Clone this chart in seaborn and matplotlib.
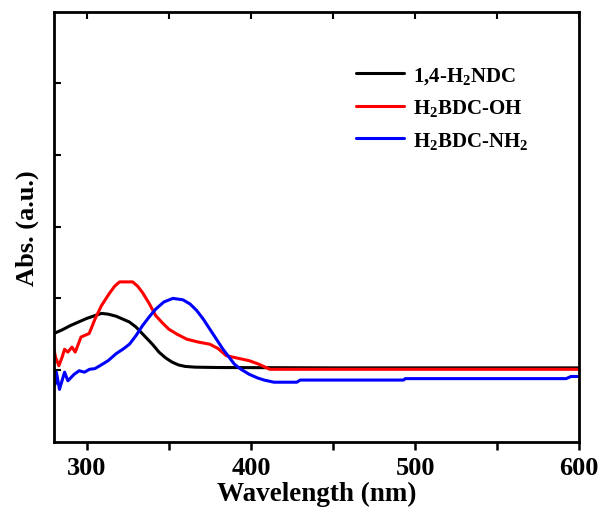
import numpy as np
import pandas as pd
import matplotlib
matplotlib.use("Agg")
import matplotlib.pyplot as plt
import seaborn as sns
from matplotlib.ticker import MultipleLocator

# Data (wavelength in nm, absorbance a.u.)
ndc_x = [280, 285, 290, 295, 300, 305, 309, 313, 318, 322, 326, 330, 335, 340, 344,
         348, 352, 356, 360, 366, 380, 450, 600]
ndc_y = [1.51, 1.56, 1.62, 1.67, 1.72, 1.76, 1.79, 1.78, 1.75, 1.71, 1.67, 1.60, 1.48,
         1.36, 1.25, 1.17, 1.11, 1.07, 1.05, 1.04, 1.035, 1.03, 1.03]

oh_x = [280, 281, 283, 285, 286.5, 288.5, 291, 293, 296.5, 298.5, 301.5, 305, 309, 313.5,
        317, 320, 328, 331, 334, 338, 342, 346, 350, 355, 361, 368, 375, 380, 385, 391,
        399, 405, 411.5, 420, 600]
oh_y = [1.29, 1.18, 1.06, 1.18, 1.29, 1.25, 1.32, 1.25, 1.46, 1.48, 1.51, 1.71, 1.90, 2.06,
        2.17, 2.23, 2.23, 2.17, 2.08, 1.93, 1.76, 1.66, 1.57, 1.50, 1.43, 1.39, 1.36, 1.30,
        1.20, 1.17, 1.13, 1.08, 1.01, 1.01, 1.01]

nh2_x = [280, 280.7, 281.5, 283.4, 286.5, 288.5, 290.2, 292.3, 295.4, 298.6, 301.7, 305,
         308, 313, 318, 322, 326, 330, 334, 338, 342, 347, 352.5, 358.6, 363, 367, 371,
         375, 379, 383, 387, 390, 394, 399, 404, 408, 414, 428, 430, 493, 494, 592, 595, 600]
nh2_y = [0.97, 0.80, 0.97, 0.73, 0.97, 0.85, 0.89, 0.94, 0.99, 0.97, 1.01, 1.02, 1.06,
         1.13, 1.23, 1.29, 1.36, 1.48, 1.62, 1.74, 1.85, 1.95, 2.00, 1.98, 1.92, 1.83, 1.71,
         1.57, 1.43, 1.29, 1.17, 1.08, 1.01, 0.94, 0.89, 0.86, 0.83, 0.83, 0.86, 0.86, 0.88,
         0.88, 0.91, 0.91]

labels = ["1,4-H$_2$NDC", "H$_2$BDC-OH", "H$_2$BDC-NH$_2$"]
colors = ["black", "#ff0000", "#0000ff"]
x_ticks = [300, 400, 500, 600]

df = pd.concat([
    pd.DataFrame({"Wavelength": ndc_x, "Abs": ndc_y, "Sample": labels[0]}),
    pd.DataFrame({"Wavelength": oh_x, "Abs": oh_y, "Sample": labels[1]}),
    pd.DataFrame({"Wavelength": nh2_x, "Abs": nh2_y, "Sample": labels[2]}),
], ignore_index=True)

sns.set_theme(style="ticks")
plt.rcParams["font.family"] = ["Liberation Serif", "DejaVu Serif"]
plt.rcParams["mathtext.fontset"] = "custom"
plt.rcParams["mathtext.rm"] = "Liberation Serif:bold"
plt.rcParams["mathtext.it"] = "Liberation Serif:bold"
plt.rcParams["mathtext.bf"] = "Liberation Serif:bold"
plt.rcParams["font.weight"] = "bold"
for k in ["text.color", "axes.labelcolor", "xtick.color", "ytick.color", "axes.edgecolor"]:
    plt.rcParams[k] = "black"

fig = plt.figure(figsize=(5.99, 5.10), dpi=100)
ax = fig.add_axes([0.090, 0.132, 0.877, 0.843])

sns.lineplot(data=df, x="Wavelength", y="Abs", hue="Sample", palette=colors,
             hue_order=labels, sort=False, estimator=None, linewidth=2.2, ax=ax)

ax.set_xlim(280, 600)
ax.set_ylim(0, 6)
ax.set_xticks(x_ticks)
ax.xaxis.set_minor_locator(MultipleLocator(50))
ax.set_yticks([1, 2, 3, 4, 5])
ax.set_yticklabels([])
ax.tick_params(axis="x", which="both", direction="out", bottom=True, top=False,
               length=6, width=1.8, labelsize=19, pad=4)
ax.tick_params(axis="y", which="both", direction="in", left=True, right=False,
               length=5, width=1.5)
for lab in ax.get_xticklabels():
    lab.set_fontweight("bold")
# inward ticks on top spine
secx = ax.secondary_xaxis("top")
secx.set_xticks(x_ticks)
secx.xaxis.set_minor_locator(MultipleLocator(50))
secx.tick_params(which="both", direction="in", length=5, width=1.5, labeltop=False)
secx.spines["top"].set_visible(False)

for s in ax.spines.values():
    s.set_linewidth(2.0)
    s.set_color("black")

ax.set_xlabel("Wavelength (nm)", fontsize=19.5, fontweight="bold", labelpad=2)
ax.set_ylabel("Abs. (a.u.)", fontsize=19, fontweight="bold", labelpad=7)

leg = ax.legend(loc="upper right", bbox_to_anchor=(0.94, 0.92), frameon=False,
                handlelength=2.3, handletextpad=0.45, labelspacing=0.55,
                prop={"family": "Liberation Serif", "weight": "bold", "size": 15})
for line in leg.get_lines():
    line.set_linewidth(2.2)

fig.savefig("out.png", dpi=100)
